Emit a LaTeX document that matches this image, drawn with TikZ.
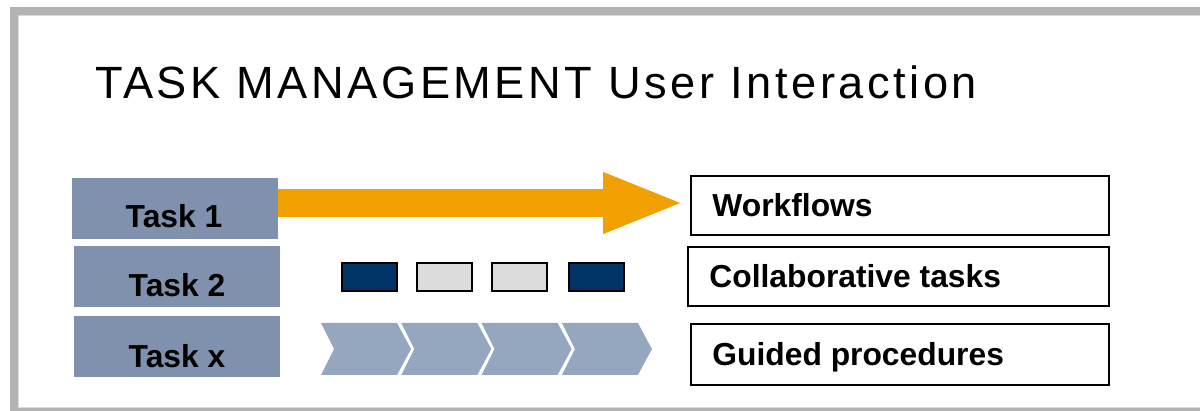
\documentclass[tikz,border=0pt]{standalone}
\usepackage{fontspec}
\setmainfont{Liberation Sans}
\newfontfamily\titlefont[LetterSpace=7.8]{Liberation Sans}
\usetikzlibrary{arrows.meta}
\definecolor{framegray}{HTML}{B3B3B3}
\definecolor{frameline}{HTML}{DADADA}
\definecolor{taskblue}{HTML}{7F91AD}
\definecolor{arroworange}{HTML}{F0A000}
\definecolor{darkblue}{HTML}{003366}
\definecolor{lightgray}{HTML}{DCDCDC}
\definecolor{chevblue}{HTML}{94A7BF}
\begin{document}
\begin{tikzpicture}[x=0.5pt,y=-0.5pt,
  taskbox/.style={rectangle, fill=taskblue, inner sep=0pt, minimum width=103pt, minimum height=30.5pt},
  labeltext/.style={inner sep=0pt, font=\fontsize{15.9}{18}\selectfont\bfseries},
  sqbox/.style={rectangle, draw=black, line width=1pt, inner sep=0pt, minimum width=27.5pt, minimum height=14pt},
  rbox/.style={rectangle, draw=black, line width=1pt, inner sep=0pt, minimum height=29.5pt},
  chev/.style={fill=chevblue}]
\useasboundingbox (0,0) rectangle (1200,411);
% frame
\fill[framegray] (10,7) rectangle (1200,411);
\fill[white] (18,15) rectangle (1200,408);
\draw[frameline, line width=0.5pt] (1200,15.5) -- (18.5,15.5) -- (18.5,407.5) -- (1200,407.5);
% title
\node[anchor=base west, inner sep=0pt, font=\titlefont\fontsize{22.6}{26}\selectfont] (title) at (95,99) {TASK MANAGEMENT User Interaction};
% task boxes
\node[taskbox] (t1) at (175,208.5) {};
\node[taskbox] (t2) at (177,276.5) {};
\node[taskbox] (tx) at (177,346.5) {};
\node[labeltext, anchor=base] (t1l) at (174,228) {Task 1};
\node[labeltext, anchor=base] (t2l) at (177,297) {Task 2};
\node[labeltext, anchor=base] (txl) at (177,367) {Task x};
% right boxes
\node[rbox, minimum width=209pt] (wf) at (900,205.5) {};
\node[rbox, minimum width=210.5pt] (cb) at (898.5,277) {};
\node[rbox, minimum width=209pt, minimum height=30.5pt] (gp) at (900,355) {};
\node[labeltext, anchor=base west] (wfl) at (712,217) {Workflows};
\node[labeltext, anchor=base west] (cbl) at (709,288) {Collaborative tasks};
\node[labeltext, anchor=base west] (gpl) at (712,365) {Guided procedures};
% orange arrow
\coordinate (ay) at (0,203);
\draw[arroworange, line width=14pt, -{Triangle[length=41pt,width=27.5pt]}, shorten >=2.5pt]
  (t1.east |- ay) -- (wf.west |- ay);
% small boxes
\node[sqbox, fill=darkblue] (s1) at (369.5,277.5) {};
\node[sqbox, fill=lightgray] (s2) at (444.5,277.5) {};
\node[sqbox, fill=lightgray] (s3) at (519,277.5) {};
\node[sqbox, fill=darkblue] (s4) at (596.5,277.5) {};
% chevrons
\foreach \i in {0,...,3}
  \fill[chev] ({321+80.3*\i},323) -- ++(76,0) -- ++(14,26) -- ++(-14,26) -- ++(-76,0) -- ++(13,-26) -- cycle;
\end{tikzpicture}
\end{document}
